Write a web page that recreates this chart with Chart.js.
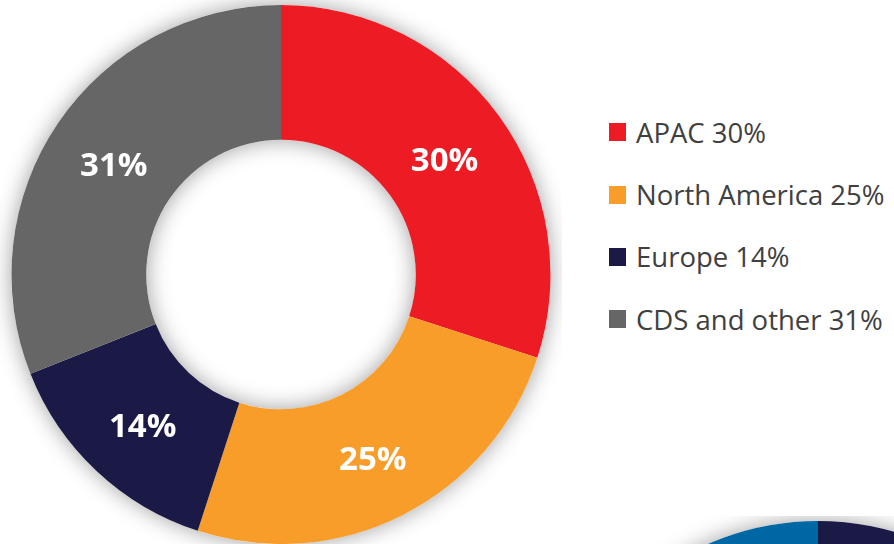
<!DOCTYPE html>
<html>
<head>
<meta charset="utf-8">
<script src="https://cdn.jsdelivr.net/npm/chart.js@4.4.1/dist/chart.umd.min.js"></script>
<style>
  html, body { margin: 0; padding: 0; background: #fff; }
  body { width: 894px; height: 544px; position: relative; overflow: hidden; font-family: "Open Sans", "Noto Sans", sans-serif; }
  #mainWrap { position: absolute; left: 0; top: 0; width: 562px; height: 544px; }
  #sideWrap { position: absolute; left: 538px; top: 516px; width: 560px; height: 560px; }
  #legend { position: absolute; left: 609px; top: 101px; margin: 0; padding: 0; list-style: none; }
  #legend li { height: 62.4px; display: flex; align-items: center; font-size: 27.5px; color: #404040; white-space: nowrap; }
  #legend .box { width: 17px; height: 18px; margin-right: 10px; display: inline-block; }
</style>
</head>
<body>
<div id="mainWrap"><canvas id="regionChart"></canvas></div>
<div id="sideWrap"><canvas id="sideChart"></canvas></div>
<ul id="legend"></ul>
<script>
// revenue share by region
const regions = ['APAC', 'North America', 'Europe', 'CDS and other'];
const shares = [30, 25, 14, 31];
const regionColors = ['#ED1C24', '#F89D2A', '#1B1A47', '#666666'];

// partly visible chart at bottom right
const sideLabels = ['A', 'B'];
const sideValues = [55, 45];
const sideColors = ['#1B1A47', '#0067A5'];

// soft shadow under the ring
const ringShadow = {
    id: 'ringShadow',
    beforeDatasetsDraw(chart) {
        const arc = chart.getDatasetMeta(0).data[0];
        if (!arc) return;
        const ctx = chart.ctx;
        ctx.save();
        ctx.shadowColor = 'rgba(0, 0, 0, 0.38)';
        ctx.shadowBlur = 22;
        ctx.fillStyle = '#fff';
        ctx.beginPath();
        ctx.arc(arc.x, arc.y, arc.outerRadius, 0, Math.PI * 2);
        ctx.arc(arc.x, arc.y, arc.innerRadius, 0, Math.PI * 2, true);
        ctx.fill();
        ctx.restore();
    }
};

// percent labels in the middle of each slice
const sliceLabels = {
    id: 'sliceLabels',
    afterDatasetsDraw(chart) {
        const ctx = chart.ctx;
        const values = chart.data.datasets[0].data;
        ctx.save();
        ctx.fillStyle = '#fff';
        ctx.font = 'bold 33px "Open Sans", "Noto Sans", sans-serif';
        ctx.textAlign = 'center';
        ctx.textBaseline = 'middle';
        chart.getDatasetMeta(0).data.forEach((arc, i) => {
            const p = arc.tooltipPosition();
            ctx.fillText(values[i] + '%', p.x, p.y + 6);
        });
        ctx.restore();
    }
};

const ctxMain = document.getElementById('regionChart');

if (ctxMain) {
    new Chart(ctxMain, {
        type: 'doughnut',
        data: {
            labels: regions,
            datasets: [{
                data: shares,
                backgroundColor: regionColors,
                borderWidth: 0
            }]
        },
        options: {
            responsive: true,
            maintainAspectRatio: false,
            animation: false,
            cutout: '50%',
            layout: { padding: { top: 5, bottom: 0 } },
            plugins: {
                legend: { display: false },
                tooltip: { enabled: false }
            }
        },
        plugins: [ringShadow, sliceLabels]
    });
}

const ctxSide = document.getElementById('sideChart');

if (ctxSide) {
    new Chart(ctxSide, {
        type: 'doughnut',
        data: {
            labels: sideLabels,
            datasets: [{
                data: sideValues,
                backgroundColor: sideColors,
                borderWidth: 0
            }]
        },
        options: {
            responsive: true,
            maintainAspectRatio: false,
            animation: false,
            cutout: '50%',
            layout: { padding: 5 },
            plugins: {
                legend: { display: false },
                tooltip: { enabled: false }
            }
        },
        plugins: [ringShadow]
    });
}

// legend built from the same arrays
const legendEl = document.getElementById('legend');
regions.forEach((name, i) => {
    const li = document.createElement('li');
    const box = document.createElement('span');
    box.className = 'box';
    box.style.background = regionColors[i];
    li.appendChild(box);
    li.appendChild(document.createTextNode(name + ' ' + shares[i] + '%'));
    legendEl.appendChild(li);
});
</script>
</body>
</html>
